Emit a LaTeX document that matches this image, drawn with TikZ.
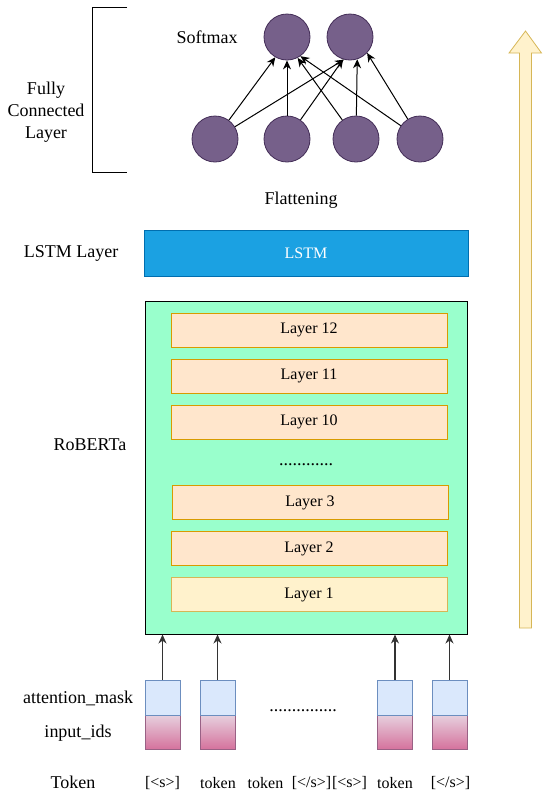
\documentclass[tikz,border=0pt]{standalone}
\usepackage{fontspec}
\setmainfont{Liberation Serif}
\usetikzlibrary{arrows.meta}
\definecolor{mint}{HTML}{99FFCC}
\definecolor{lstmfill}{HTML}{1BA1E2}
\definecolor{lstmdraw}{HTML}{006EAF}
\definecolor{layerfill}{HTML}{FFE6CC}
\definecolor{layerdraw}{HTML}{D79B00}
\definecolor{lonefill}{HTML}{FFF2CC}
\definecolor{lonedraw}{HTML}{D6B656}
\definecolor{neuronfill}{HTML}{76608A}
\definecolor{neurondraw}{HTML}{432D57}
\definecolor{maskfill}{HTML}{DAE8FC}
\definecolor{maskdraw}{HTML}{6C8EBF}
\definecolor{idtop}{HTML}{E6D0DE}
\definecolor{idbot}{HTML}{D5739D}
\definecolor{iddraw}{HTML}{996185}
\begin{document}
\begin{tikzpicture}[x=1pt,y=-1pt,
  lbl/.style={font=\fontsize{18}{22}\selectfont, inner sep=0pt},
  tok/.style={font=\fontsize{16}{18}\selectfont, inner sep=0pt},
  layerbox/.style={draw=layerdraw, fill=layerfill, line width=0.8pt, minimum width=276pt, minimum height=34pt, inner sep=0pt, font=\fontsize{16}{18}\selectfont},
  neuron/.style={circle, draw=neurondraw, fill=neuronfill, minimum size=46pt, inner sep=0pt, line width=0.8pt},
  fcarrow/.style={-{Stealth[length=9pt,width=8pt]}, line width=1pt},
  inarrow/.style={-{Stealth[length=9pt,width=8pt]}, line width=1.1pt, draw=black!80},
  maskbox/.style={draw=maskdraw, fill=maskfill, minimum width=35pt, minimum height=35pt, inner sep=0pt, line width=0.8pt},
  idbox/.style={draw=iddraw, top color=idtop, bottom color=idbot, minimum width=35pt, minimum height=34pt, inner sep=0pt, line width=0.8pt}
]
\useasboundingbox (0,0) rectangle (542,796);

% bracket
\coordinate (brt) at (127,7.5);
\coordinate (brb) at (127,172);
\draw[line width=0.9pt] (brt) -- (92,7.5) -- (92,172) -- (brb);
\node[lbl, align=center] (fcl) at (46,112) {Fully\\Connected\\Layer};

% neurons
\node[lbl] (smx) at (207,37) {Softmax};
\node[neuron] (t1) at (287,37) {};
\node[neuron] (t2) at (350,37) {};
\node[neuron] (b1) at (215,139) {};
\node[neuron] (b2) at (287,139) {};
\node[neuron] (b3) at (356,139) {};
\node[neuron] (b4) at (420,139) {};
\draw[fcarrow] (b1) -- (t1.-120);
\draw[fcarrow] (b1) -- (t2.-105);
\draw[fcarrow] (b2) -- (t1.-90);
\draw[fcarrow] (b2) -- (t2.-107);
\draw[fcarrow] (b3) -- (t1.-63);
\draw[fcarrow] (b3) -- (t2.-72);
\draw[fcarrow] (b4) -- (t1.-55);
\draw[fcarrow] (b4) -- (t2.-43);

\node[lbl] (flat) at (301,200) {Flattening};

% LSTM
\node[lbl] (lstml) at (71,253) {LSTM Layer};
\node[draw=lstmdraw, fill=lstmfill, line width=0.8pt, minimum width=324pt, minimum height=46pt, inner sep=0pt, text=white, font=\fontsize{16}{18}\selectfont] (lstm) at (306,253) {LSTM};

% RoBERTa
\node[lbl] (robl) at (90,445) {RoBERTa};
\node[draw=black, fill=mint, line width=1pt, minimum width=322pt, minimum height=333pt, inner sep=0pt] (rob) at (306.5,467.5) {};
\node[layerbox] (l12) at (309,330) {Layer 12};
\node[layerbox] (l11) at (309,376) {Layer 11};
\node[layerbox] (l10) at (309,422) {Layer 10};
\node[lbl] (ldots) at (306,465) {............};
\node[layerbox] (l3) at (310,502.5) {Layer 3};
\node[layerbox] (l2) at (309,548.5) {Layer 2};
\node[layerbox, draw=lonedraw, fill=lonefill] (l1) at (309,594.5) {Layer 1};

% inputs
\node[lbl] (aml) at (78,698) {attention\_mask};
\node[lbl] (iil) at (78,733) {input\_ids};
\node[lbl] (tkl) at (73,782) {Token};

\foreach \i/\x in {1/162.5, 2/217.5, 3/395, 4/449.5} {
  \node[idbox] (d\i) at (\x,732) {};
  \node[maskbox] (m\i) at (\x,697.5) {};
  \draw[inarrow] (m\i) -- (m\i |- rob.south);
}
\node[lbl] (idots) at (303,711) {...............};

\node[tok] (k1) at (162.5,783) {[<s>]};
\node[tok] (k2) at (218,783) {token};
\node[tok] (k3) at (265.5,783) {token};
\node[tok] (k4) at (311.5,783) {[</s>]};
\node[tok] (k5) at (349.5,783) {[<s>]};
\node[tok] (k6) at (395,783) {token};
\node[tok] (k7) at (450.5,783) {[</s>]};

% big arrow
\draw[draw=lonedraw, fill=lonefill, line width=0.8pt]
  (519.5,628) -- (519.5,53) -- (509,53) -- (525.5,31) -- (541.5,53) -- (531.5,53) -- (531.5,628) -- cycle;
\end{tikzpicture}
\end{document}
